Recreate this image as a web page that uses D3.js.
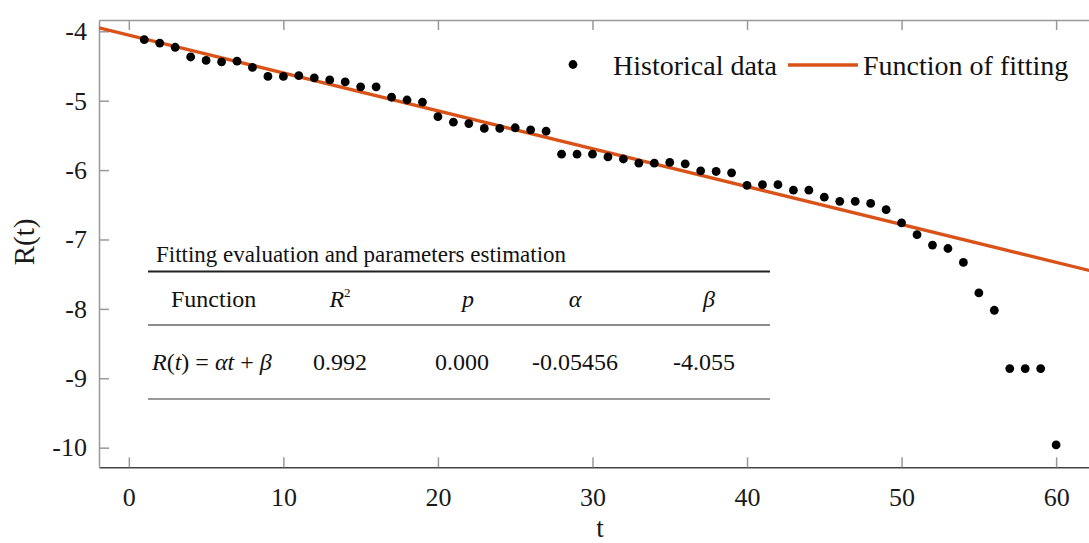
<!DOCTYPE html>
<html>
<head>
<meta charset="utf-8">
<script src="https://cdn.jsdelivr.net/npm/d3@7"></script>
<style>
  body { margin: 0; background: #fff; }
  svg { font-family: "Liberation Serif", "Times New Roman", serif; }
</style>
</head>
<body>
<svg id="chart" width="1089" height="543"></svg>
<script>
// historical data R(t), t = 1..60
var tValues = d3.range(1, 61);
var rValues = [-4.12, -4.17, -4.23, -4.37, -4.42, -4.44, -4.43, -4.52, -4.65, -4.65,
               -4.64, -4.67, -4.70, -4.73, -4.80, -4.80, -4.95, -4.99, -5.02, -5.23,
               -5.31, -5.33, -5.40, -5.40, -5.39, -5.42, -5.44, -5.77, -5.77, -5.77,
               -5.81, -5.84, -5.90, -5.90, -5.89, -5.91, -6.01, -6.02, -6.04, -6.22,
               -6.21, -6.21, -6.29, -6.29, -6.39, -6.45, -6.45, -6.48, -6.57, -6.76,
               -6.93, -7.08, -7.13, -7.33, -7.77, -8.02, -8.86, -8.86, -8.86, -9.96];
// fitted parameters
var alpha = -0.05456, beta = -4.055;
var xTicks = [0, 10, 20, 30, 40, 50, 60];
var yTicks = [-10, -9, -8, -7, -6, -5, -4];
// table contents
var tableTitle = "Fitting evaluation and parameters estimation";
var tableValues = ["0.992", "0.000", "-0.05456", "-4.055"];

var serif = "'Liberation Serif', 'Times New Roman', serif";
var svg = d3.select("#chart");
var mLeft = 99, mTop = 20, mBottom = 467.3;

var x = d3.scaleLinear().domain([-1.93, 62.5]).range([mLeft, mLeft + 64.43 * 15.455]);
var y = d3.scaleLinear().domain([-10.283, -3.837]).range([mBottom, mTop]);

function styleAxis(g, domainColor) {
    g.attr("font-family", serif).attr("font-size", 26);
    g.select(".domain").attr("stroke", domainColor).attr("stroke-width", 1.5);
    g.selectAll(".tick line").attr("stroke", "#999").attr("stroke-width", 1.5);
    g.selectAll(".tick text").attr("fill", "#1a1a1a");
}

// axes (MATLAB style box, ticks inward)
var gx = svg.append("g")
    .attr("transform", "translate(0," + mBottom + ")")
    .call(d3.axisBottom(x).tickValues(xTicks).tickSizeInner(-10).tickSizeOuter(0).tickPadding(20)
        .tickFormat(function(d) { return String(d); }));
styleAxis(gx, "#444");

var gt = svg.append("g")
    .attr("transform", "translate(0," + mTop + ")")
    .call(d3.axisTop(x).tickValues(xTicks).tickSizeInner(-10).tickSizeOuter(0).tickFormat(""));
styleAxis(gt, "#999");

var gy = svg.append("g")
    .attr("transform", "translate(" + mLeft + ",0)")
    .call(d3.axisLeft(y).tickValues(yTicks).tickSizeInner(-10).tickSizeOuter(0).tickPadding(12)
        .tickFormat(function(d) { return String(d); }));
styleAxis(gy, "#999");

// axis labels
svg.append("text")
    .attr("transform", "translate(34,242) rotate(-90)")
    .attr("text-anchor", "middle")
    .attr("font-size", 29)
    .attr("fill", "#1a1a1a")
    .text("R(t)");
svg.append("text")
    .attr("x", 600).attr("y", 537)
    .attr("text-anchor", "middle")
    .attr("font-size", 27)
    .attr("fill", "#1a1a1a")
    .text("t");

// clip to plotting area
svg.append("clipPath").attr("id", "clip")
  .append("rect")
    .attr("x", mLeft).attr("y", mTop)
    .attr("width", 1089 - mLeft).attr("height", mBottom - mTop);

// fitted line
var fitT = x.domain();
svg.append("line")
    .attr("clip-path", "url(#clip)")
    .attr("x1", x(fitT[0])).attr("y1", y(alpha * fitT[0] + beta))
    .attr("x2", x(fitT[1])).attr("y2", y(alpha * fitT[1] + beta))
    .attr("stroke", "#D95319")
    .attr("stroke-width", 3.3);

// historical points
svg.append("g").selectAll("circle")
    .data(tValues)
  .enter().append("circle")
    .attr("cx", function(d) { return x(d); })
    .attr("cy", function(d, i) { return y(rValues[i]); })
    .attr("r", 4.4)
    .attr("fill", "#000");

// legend
svg.append("circle").attr("cx", 573).attr("cy", 64.5).attr("r", 4.4).attr("fill", "#000");
svg.append("text").attr("x", 613).attr("y", 75).attr("font-size", 28).attr("fill", "#111")
    .text("Historical data");
svg.append("line").attr("x1", 788).attr("x2", 858).attr("y1", 65).attr("y2", 65)
    .attr("stroke", "#D95319").attr("stroke-width", 3.3);
svg.append("text").attr("x", 863).attr("y", 75).attr("font-size", 28).attr("fill", "#111")
    .text("Function of fitting");

// table of fitting results
var tbl = svg.append("g");
var colX = [152, 340, 462, 575, 704];
var ruleX0 = 148, ruleX1 = 770;

tbl.append("text").attr("x", 156).attr("y", 262).attr("font-size", 23).attr("fill", "#111")
    .text(tableTitle);
tbl.append("line").attr("x1", ruleX0).attr("x2", ruleX1).attr("y1", 271.5).attr("y2", 271.5)
    .attr("stroke", "#222").attr("stroke-width", 2);
tbl.append("line").attr("x1", ruleX0).attr("x2", ruleX1).attr("y1", 325).attr("y2", 325)
    .attr("stroke", "#666").attr("stroke-width", 1.3);
tbl.append("line").attr("x1", ruleX0).attr("x2", ruleX1).attr("y1", 399).attr("y2", 399)
    .attr("stroke", "#777").attr("stroke-width", 1.6);

// header row
var hy = 307;
tbl.append("text").attr("x", 171).attr("y", hy).attr("font-size", 24).attr("fill", "#111").text("Function");
var r2 = tbl.append("text").attr("x", colX[1]).attr("y", hy).attr("text-anchor", "middle")
    .attr("font-size", 24).attr("fill", "#111");
r2.append("tspan").attr("font-style", "italic").text("R");
r2.append("tspan").attr("font-size", 13).attr("dy", -10).text("2");
tbl.append("text").attr("x", colX[2] + 6).attr("y", hy).attr("text-anchor", "middle")
    .attr("font-size", 24).attr("font-style", "italic").attr("fill", "#111").text("p");
tbl.append("text").attr("x", colX[3]).attr("y", hy).attr("text-anchor", "middle")
    .attr("font-size", 24).attr("font-style", "italic").attr("fill", "#111").text("\u03b1");
tbl.append("text").attr("x", colX[4] + 5).attr("y", hy).attr("text-anchor", "middle")
    .attr("font-size", 24).attr("font-style", "italic").attr("fill", "#111").text("\u03b2");

// data row
var ry = 370;
var fn = tbl.append("text").attr("x", colX[0]).attr("y", ry).attr("font-size", 24).attr("fill", "#111");
[["R", true], ["(", false], ["t", true], [") = ", false], ["\u03b1t", true], [" + ", false], ["\u03b2", true]]
  .forEach(function(p) {
    fn.append("tspan").attr("font-style", p[1] ? "italic" : "normal").text(p[0]);
  });
tbl.selectAll("text.val")
    .data(tableValues)
  .enter().append("text")
    .attr("class", "val")
    .attr("x", function(d, i) { return colX[i + 1]; })
    .attr("y", ry)
    .attr("text-anchor", "middle")
    .attr("font-size", 24)
    .attr("fill", "#111")
    .text(function(d) { return d; });
</script>
</body>
</html>
